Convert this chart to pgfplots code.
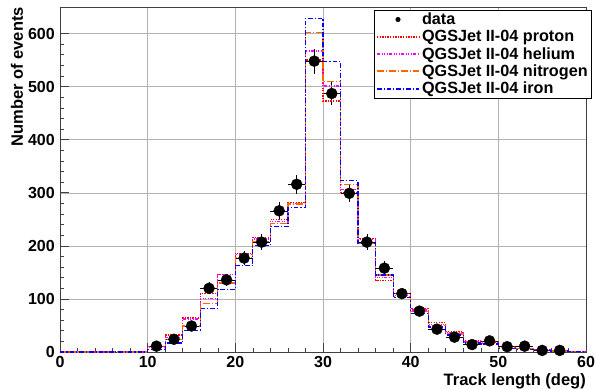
\documentclass[border=0pt]{standalone}
\usepackage{pgfplots}
\pgfplotsset{compat=1.18}
\usepackage{fontspec}
\setmainfont{Liberation Sans}
\definecolor{rorange}{RGB}{255,102,0}
\definecolor{rred}{RGB}{255,0,0}
\definecolor{rmag}{RGB}{255,0,255}
\definecolor{rblue}{RGB}{0,0,255}
\tikzset{
  sproton/.style={color=rred, draw=rred, line width=1.2pt, dash pattern=on 1.3pt off 1.3pt},
  shelium/.style={color=rmag, draw=rmag, line width=1.2pt, dash pattern=on 3pt off 1.5pt on 1pt off 1.5pt on 1pt off 1.5pt on 1pt off 1.5pt},
  snitrogen/.style={color=rorange, draw=rorange, line width=1.2pt, dash pattern=on 7pt off 2pt on 1pt off 2pt},
  siron/.style={color=rblue, draw=rblue, line width=1.2pt, dash pattern=on 4.5pt off 2pt on 1.2pt off 2pt},
}
\begin{document}
\begin{tikzpicture}
\useasboundingbox (-60pt,-36pt) rectangle (536pt,352pt);
\begin{axis}[
  at={(0pt,0pt)}, anchor=south west,
  scale only axis, width=526pt, height=345pt,
  xmin=0, xmax=60, ymin=0, ymax=650,
  xtick={0,10,...,60}, ytick={0,100,...,600},
  minor x tick num=4, minor y tick num=4,
  tick align=inside, major tick length=9pt, minor tick length=4.5pt,
  xtick pos=bottom, ytick pos=left,
  grid=major, major grid style={gray!60, line width=0.5pt},
  axis line style={black!75, line width=0.7pt},
  tick style={black!75, line width=0.6pt},
  /pgf/number format/assume math mode=true,
  ticklabel style={font=\fontsize{16}{16}\selectfont\bfseries},
  xticklabel style={inner sep=0pt, anchor=north, yshift=-4pt},
  yticklabel style={inner sep=0pt, anchor=east, xshift=-5pt},
  xlabel={Track length (deg)},
  ylabel={Number of events},
  label style={font=\fontsize{16.5}{16.5}\selectfont\bfseries, inner sep=0pt},
  xlabel style={at={(axis description cs:1,-0.062)}, anchor=north east},
  ylabel style={at={(axis description cs:-0.070,1)}, anchor=south east},
  legend style={at={(rel axis cs:1.0114,0.991)}, anchor=north east,
    font=\fontsize{16.2}{16.2}\selectfont\bfseries, draw=black, line width=0.6pt,
    inner xsep=2pt, inner ysep=0.5pt, row sep=0.2pt, cells={anchor=west}},
]
\addplot[only marks, mark=*, mark size=5.5pt, black,
  legend image code/.code={\fill[black] (21pt,0pt) circle (2.2pt);},
  error bars/.cd, x dir=both, x explicit, y dir=both, y explicit,
  error mark=none, error bar style={black, line width=0.6pt}]
coordinates {
(11,11) +- (1,3.3)
(13,24) +- (1,4.9)
(15,49) +- (1,7.0)
(17,120) +- (1,11.0)
(19,136) +- (1,11.7)
(21,177) +- (1,13.3)
(23,207) +- (1,14.4)
(25,266) +- (1,16.3)
(27,316) +- (1,17.8)
(29,548) +- (1,23.4)
(31,487) +- (1,22.1)
(33,299) +- (1,17.3)
(35,207) +- (1,14.4)
(37,158) +- (1,12.6)
(39,110) +- (1,10.5)
(41,77) +- (1,8.8)
(43,43) +- (1,6.6)
(45,28) +- (1,5.3)
(47,14) +- (1,3.7)
(49,21) +- (1,4.6)
(51,10) +- (1,3.2)
(53,11) +- (1,3.3)
(55,3) +- (1,1.7)
(57,3) +- (1,1.7)
};
\addlegendentry{data}
% proton
\addplot[const plot mark left, no marks, sproton,
  legend image code/.code={\draw[sproton, line width=1.8pt] (0pt,0pt) -- (42pt,0pt);}]
coordinates {(0,0)(2,0)(4,0)(6,0)(8,0)(10,10)(12,32)(14,64)(16,110)(18,146)(20,186)(22,216)(24,250)(26,281)(28,550)(30,473)(32,300)(34,214)(36,135)(38,110)(40,82)(42,55)(44,38)(46,21)(48,19)(50,10)(52,7)(54,4)(56,2)(58,1)(60,1)};
\addlegendentry{QGSJet II-04 proton}
% helium
\addplot[const plot mark left, no marks, shelium,
  legend image code/.code={\draw[shelium, line width=1.8pt] (0pt,0pt) -- (42pt,0pt);}]
coordinates {(0,0)(2,0)(4,0)(6,0)(8,0)(10,10)(12,28)(14,62)(16,101)(18,146)(20,183)(22,213)(24,246)(26,280)(28,567)(30,501)(32,306)(34,212)(36,140)(38,107)(40,79)(42,52)(44,36)(46,19)(48,17)(50,9)(52,6)(54,4)(56,2)(58,1)(60,1)};
\addlegendentry{QGSJet II-04 helium}
% nitrogen
\addplot[const plot mark left, no marks, snitrogen,
  legend image code/.code={\draw[snitrogen, line width=2.1pt] (0pt,0.6pt) -- (42pt,0.6pt);}]
coordinates {(0,0)(2,0)(4,0)(6,0)(8,0)(10,8)(12,24)(14,49)(16,92)(18,130)(20,178)(22,208)(24,242)(26,279)(28,602)(30,509)(32,315)(34,205)(36,145)(38,104)(40,76)(42,50)(44,34)(46,18)(48,16)(50,8)(52,6)(54,3)(56,2)(58,1)(60,1)};
\addlegendentry{QGSJet II-04 nitrogen}
% iron
\addplot[const plot mark left, no marks, siron,
  legend image code/.code={\draw[siron, line width=1.8pt] (0pt,0pt) -- (42pt,0pt);}]
coordinates {(0,0)(2,0)(4,0)(6,0)(8,0)(10,5)(12,17)(14,40)(16,82)(18,118)(20,163)(22,200)(24,236)(26,272)(28,629)(30,547)(32,323)(34,204)(36,145)(38,103)(40,73)(42,47)(44,32)(46,17)(48,15)(50,7)(52,5)(54,3)(56,2)(58,1)(60,1)};
\addlegendentry{QGSJet II-04 iron}
\end{axis}
\end{tikzpicture}
\end{document}
